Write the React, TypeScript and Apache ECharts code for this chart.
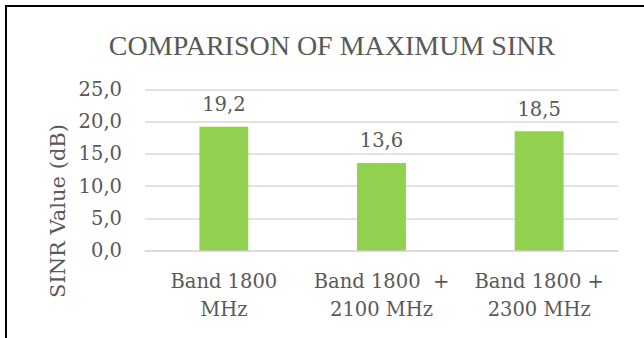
import React, { useEffect, useRef } from "react";
import * as echarts from "echarts";

const categories = ["Band 1800\nMHz", "Band 1800  +\n2100 MHz", "Band 1800 +\n2300 MHz"];
const sinrValues = [19.2, 13.6, 18.5];
const yTicks = [0, 5, 10, 15, 20, 25];

const TEXT = "#595959";
const LABEL_FONT = "'DejaVu Serif', serif";
const TITLE_FONT = "'Liberation Serif', 'Times New Roman', serif";

export default function App() {
  const ref = useRef<HTMLDivElement>(null);

  useEffect(() => {
    if (!ref.current) return;
    const chart = echarts.init(ref.current, null, { renderer: "svg" });
    chart.setOption({
      animation: false,
      backgroundColor: "#ffffff",
      title: {
        text: "COMPARISON OF MAXIMUM SINR",
        left: 327,
        textAlign: "center",
        top: 26,
        textStyle: {
          fontFamily: TITLE_FONT,
          fontWeight: "normal",
          fontSize: 28,
          color: TEXT,
        },
      },
      grid: { left: 145, right: 26, top: 89.5, bottom: 87.5 },
      xAxis: {
        type: "category",
        data: categories,
        axisLine: { lineStyle: { color: "#D9D9D9", width: 1.5 } },
        axisTick: { show: false },
        axisLabel: {
          margin: 17,
          fontFamily: LABEL_FONT,
          fontSize: 19.5,
          lineHeight: 28,
          color: TEXT,
          interval: 0,
        },
      },
      yAxis: {
        type: "value",
        min: yTicks[0],
        max: yTicks[yTicks.length - 1],
        interval: 5,
        axisLine: { show: false },
        axisTick: { show: false },
        splitLine: { lineStyle: { color: "#D9D9D9", width: 1.5 } },
        axisLabel: {
          margin: 23,
          fontFamily: LABEL_FONT,
          fontSize: 19.5,
          color: TEXT,
          formatter: (v: number) => v.toFixed(1).replace(".", ","),
        },
      },
      series: [
        {
          type: "bar",
          data: sinrValues,
          barWidth: "31%",
          itemStyle: { color: "#92D050" },
          label: {
            show: true,
            position: "top",
            distance: 12,
            fontFamily: LABEL_FONT,
            fontSize: 19.5,
            color: TEXT,
            formatter: (p: any) => Number(p.value).toFixed(1).replace(".", ","),
          },
        },
      ],
      graphic: [
        {
          type: "text",
          x: 58,
          y: 211,
          rotation: Math.PI / 2,
          style: {
            text: "SINR Value (dB)",
            fontFamily: LABEL_FONT,
            fontSize: 21,
            fill: TEXT,
            textAlign: "center",
            textVerticalAlign: "middle",
          },
        },
        {
          type: "line",
          shape: { x1: 5, y1: 6, x2: 644, y2: 6 },
          style: { stroke: "#000000", lineWidth: 2 },
        },
        {
          type: "line",
          shape: { x1: 6, y1: 5, x2: 6, y2: 338 },
          style: { stroke: "#000000", lineWidth: 2 },
        },
      ],
    });
    return () => chart.dispose();
  }, []);

  return (
    <div
      ref={ref}
      style={{ position: "absolute", left: 0, top: 0, width: 644, height: 338 }}
    />
  );
}
